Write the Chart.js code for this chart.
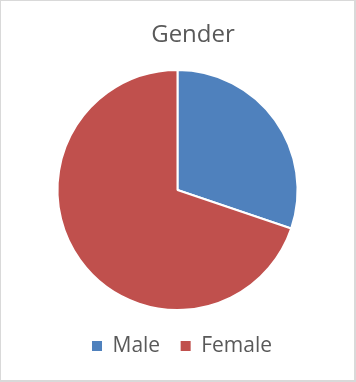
<!DOCTYPE html>
<html>
<head>
<meta charset="utf-8">
<script src="https://cdn.jsdelivr.net/npm/chart.js@4/dist/chart.umd.min.js"></script>
<style>
  html, body { margin: 0; padding: 0; background: #fff; }
  #box {
    width: 356px;
    height: 382px;
    box-sizing: border-box;
    border-style: solid;
    border-color: #d9d9d9;
    border-width: 1px 2px 2px 1px;
  }
  canvas { display: block; }
</style>
</head>
<body>
<div id="box"><canvas id="pizza" width="353" height="379"></canvas></div>
<script>
const labels = ["Male", "Female"];
const counts = [30.2, 69.8];

// title and legend sit a bit right of the pie in the original
const nudge = {
  id: "nudge",
  afterLayout(chart) {
    chart.titleBlock.left += 15.5;
    chart.titleBlock.right += 15.5;
    chart.legend.left += 4.5;
    chart.legend.right += 4.5;
  },
};

let pizza = new Chart(document.getElementById("pizza"), {
  type: "pie",
  data: {
    labels: labels,
    datasets: [
      {
        data: counts,
        backgroundColor: ["#4F81BD", "#C0504D"],
        borderColor: "#ffffff",
        borderWidth: 2,
        radius: 120,
      },
    ],
  },
  options: {
    responsive: false,
    devicePixelRatio: 1,
    animation: false,
    layout: {
      padding: { top: 0, bottom: 13.5, left: 0, right: 0 },
    },
    plugins: {
      legend: {
        position: "bottom",
        labels: {
          boxWidth: 10,
          boxHeight: 10,
          padding: 20.5,
          color: "#595959",
          font: { family: "'Open Sans'", size: 21 },
          generateLabels(chart) {
            let items = Chart.overrides.doughnut.plugins.legend.labels.generateLabels(chart);
            items.forEach((item) => {
              item.lineWidth = 0;
            });
            return items;
          },
        },
      },
      title: {
        display: true,
        text: "Gender",
        color: "#595959",
        font: { family: "'Open Sans'", size: 24, weight: "normal" },
        padding: { top: 19.35, bottom: 15.85 },
      },
      tooltip: { enabled: false },
    },
  },
  plugins: [nudge],
});
</script>
</body>
</html>
